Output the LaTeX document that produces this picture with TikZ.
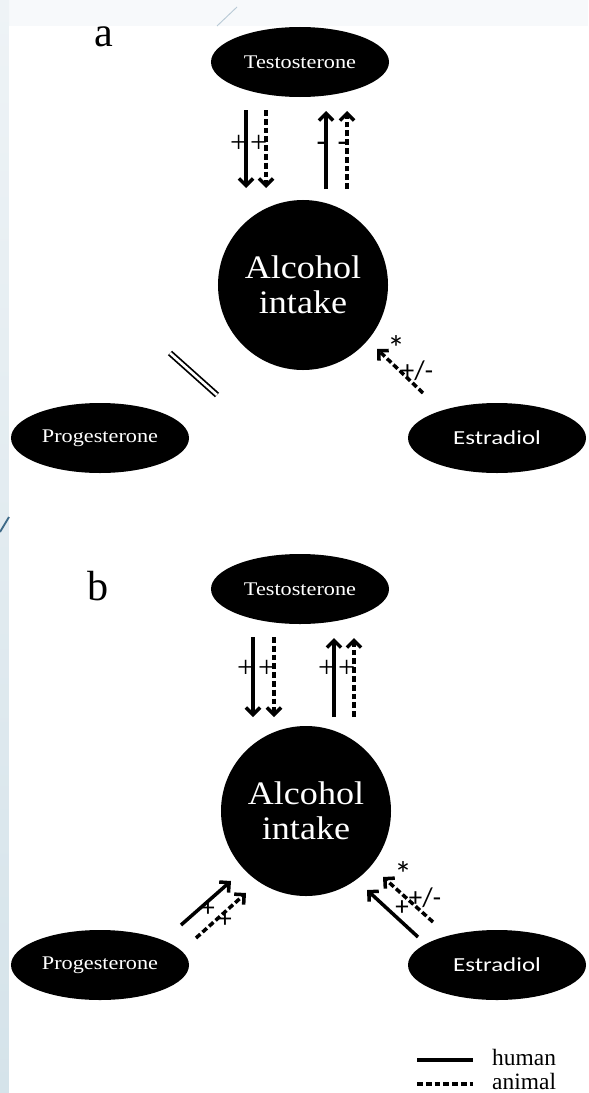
\documentclass[tikz,border=0pt]{standalone}
\usepackage{fontspec}
\setmainfont{Liberation Serif}
\newfontfamily\ovalserif[FakeStretch=1.15]{Liberation Serif}
\newfontfamily\ovalsans[FakeStretch=1.25]{Carlito}
\newfontfamily\bigserif[FakeStretch=1.1]{Liberation Serif}
\newfontfamily\signfont{Carlito}
\usetikzlibrary{shapes.geometric,arrows.meta}
\definecolor{slidetop}{HTML}{F7F9FB}
\definecolor{stripetop}{HTML}{EEF3F6}
\definecolor{stripebot}{HTML}{D5E3EA}
\definecolor{slideline}{HTML}{3E6A88}
\definecolor{thinline}{HTML}{B9CAD6}
\begin{document}
\begin{tikzpicture}[x=0.03cm, y=-0.03cm,
  hormone/.style={ellipse, fill=black, text=white, inner sep=0pt, minimum width=5.34cm, minimum height=2.1cm},
  intake/.style={circle, fill=black, text=white, inner sep=0pt, minimum size=5.1cm, align=center, font=\bigserif\fontsize{28}{30}\selectfont},
  human/.style={line width=3pt},
  animal/.style={line width=3pt, dash pattern=on 5pt off 2.5pt},
  tip/.style={-{Straight Barb[length=6pt,width=12pt]}},
  sign/.style={font=\fontsize{26}{26}\selectfont, inner sep=0pt, anchor=base east},
  sanssign/.style={font=\signfont\fontsize{23}{23}\selectfont, inner sep=0pt},
  star/.style={font=\signfont\fontsize{30}{30}\selectfont, inner sep=0pt},
  panel/.style={font=\fontsize{36}{36}\selectfont, anchor=base},
  ]

  % slide background
  \useasboundingbox (0,0) rectangle (588,1093);
  \fill[slidetop] (0,0) rectangle (588,1093);
  \shade[top color=stripetop, bottom color=stripebot] (0,0) rectangle (9,1093);
  \fill[white] (9,26) rectangle (588,1093);
  \draw[thinline, line width=0.8pt] (217,26) -- (237,7);
  \draw[slideline, line width=1.6pt] (0,532) -- (9,517);

  %%%% panel a
  \node[panel] (labA) at (104,47) {a};
  \node[hormone] (testA) at (300,62) {\ovalserif\fontsize{16.5}{17}\selectfont Testosterone};
  \node[intake] (alcA) at (303,285) {Alcohol\\intake};
  \node[hormone] (progA) at (100,438) {\ovalserif\fontsize{16.5}{17}\selectfont Progesterone};
  \node[hormone] (estrA) at (497,438) {\ovalsans\fontsize{17}{17}\selectfont Estradiol};

  \coordinate (aT1) at (246,110); \coordinate (aC1) at (246,188);
  \coordinate (aT2) at (266,110); \coordinate (aC2) at (266,188);
  \coordinate (aT3) at (326,111); \coordinate (aC3) at (326,189);
  \coordinate (aT4) at (347,111); \coordinate (aC4) at (347,189);
  \draw[human, tip] (aT1) -- (aC1);
  \draw[animal, tip] (aT2) -- (aC2);
  \draw[human, tip] (aC3) -- (aT3);
  \draw[animal, tip] (aC4) -- (aT4);
  \node[sign] (aS1) at (247.5,152) {+};
  \node[sign] (aS2) at (267.5,152) {+};
  \node[sign] (aS3) at (327,150) {-};
  \node[sign] (aS4) at (348,150) {-};

  % no effect of progesterone
  \coordinate (aP1) at (170,353); \coordinate (aP2) at (217,395);
  \draw[double, double distance=2.2pt, line width=1.5pt] (aP1) -- (aP2);

  % estradiol
  \coordinate (aE1) at (423,393); \coordinate (aE2) at (377,349);
  \draw[animal, tip] (aE1) -- (aE2);
  \node[sanssign] (aS5) at (417,371) {+/-};
  \node[star] (aS6) at (396,348) {*};

  %%%% panel b
  \node[panel] (labB) at (98,600) {b};
  \node[hormone] (testB) at (300,589) {\ovalserif\fontsize{16.5}{17}\selectfont Testosterone};
  \node[intake] (alcB) at (306,811) {Alcohol\\intake};
  \node[hormone] (progB) at (100,965) {\ovalserif\fontsize{16.5}{17}\selectfont Progesterone};
  \node[hormone] (estrB) at (497,965) {\ovalsans\fontsize{17}{17}\selectfont Estradiol};

  \coordinate (bT1) at (253,637); \coordinate (bC1) at (253,717);
  \coordinate (bT2) at (274,637); \coordinate (bC2) at (274,717);
  \coordinate (bT3) at (334,638); \coordinate (bC3) at (334,717);
  \coordinate (bT4) at (354,638); \coordinate (bC4) at (354,717);
  \draw[human, tip] (bT1) -- (bC1);
  \draw[animal, tip] (bT2) -- (bC2);
  \draw[human, tip] (bC3) -- (bT3);
  \draw[animal, tip] (bC4) -- (bT4);
  \node[sign] (bS1) at (254.5,677) {+};
  \node[sign] (bS2) at (275.5,677) {+};
  \node[sign] (bS3) at (335.5,677) {+};
  \node[sign] (bS4) at (355.5,677) {+};

  % progesterone
  \coordinate (bP1) at (181,925); \coordinate (bP2) at (231,881);
  \coordinate (bP3) at (196,938); \coordinate (bP4) at (246,893);
  \draw[human, tip] (bP1) -- (bP2);
  \draw[animal, tip] (bP3) -- (bP4);
  \node[sanssign] (bS5) at (208,909) {+};
  \node[sanssign] (bS6) at (225,920) {+};

  % estradiol
  \coordinate (bE1) at (418,937); \coordinate (bE2) at (367,890);
  \coordinate (bE3) at (433,922); \coordinate (bE4) at (383,877);
  \draw[human, tip] (bE1) -- (bE2);
  \draw[animal, tip] (bE3) -- (bE4);
  \node[sanssign] (bS7) at (425,898) {+/-};
  \node[sanssign] (bS8) at (402,908) {+};
  \node[star] (bS9) at (403,874) {*};

  % legend
  \coordinate (lh1) at (417,1060); \coordinate (lh2) at (473,1060);
  \coordinate (la1) at (417,1084); \coordinate (la2) at (473,1084);
  \draw[human] (lh1) -- (lh2);
  \draw[animal] (la1) -- (la2);
  \node[font=\fontsize{20}{20}\selectfont, anchor=base west, inner sep=0pt] (legH) at (492,1065) {human};
  \node[font=\fontsize{20}{20}\selectfont, anchor=base west, inner sep=0pt] (legA) at (492,1089) {animal};

\end{tikzpicture}
\end{document}
